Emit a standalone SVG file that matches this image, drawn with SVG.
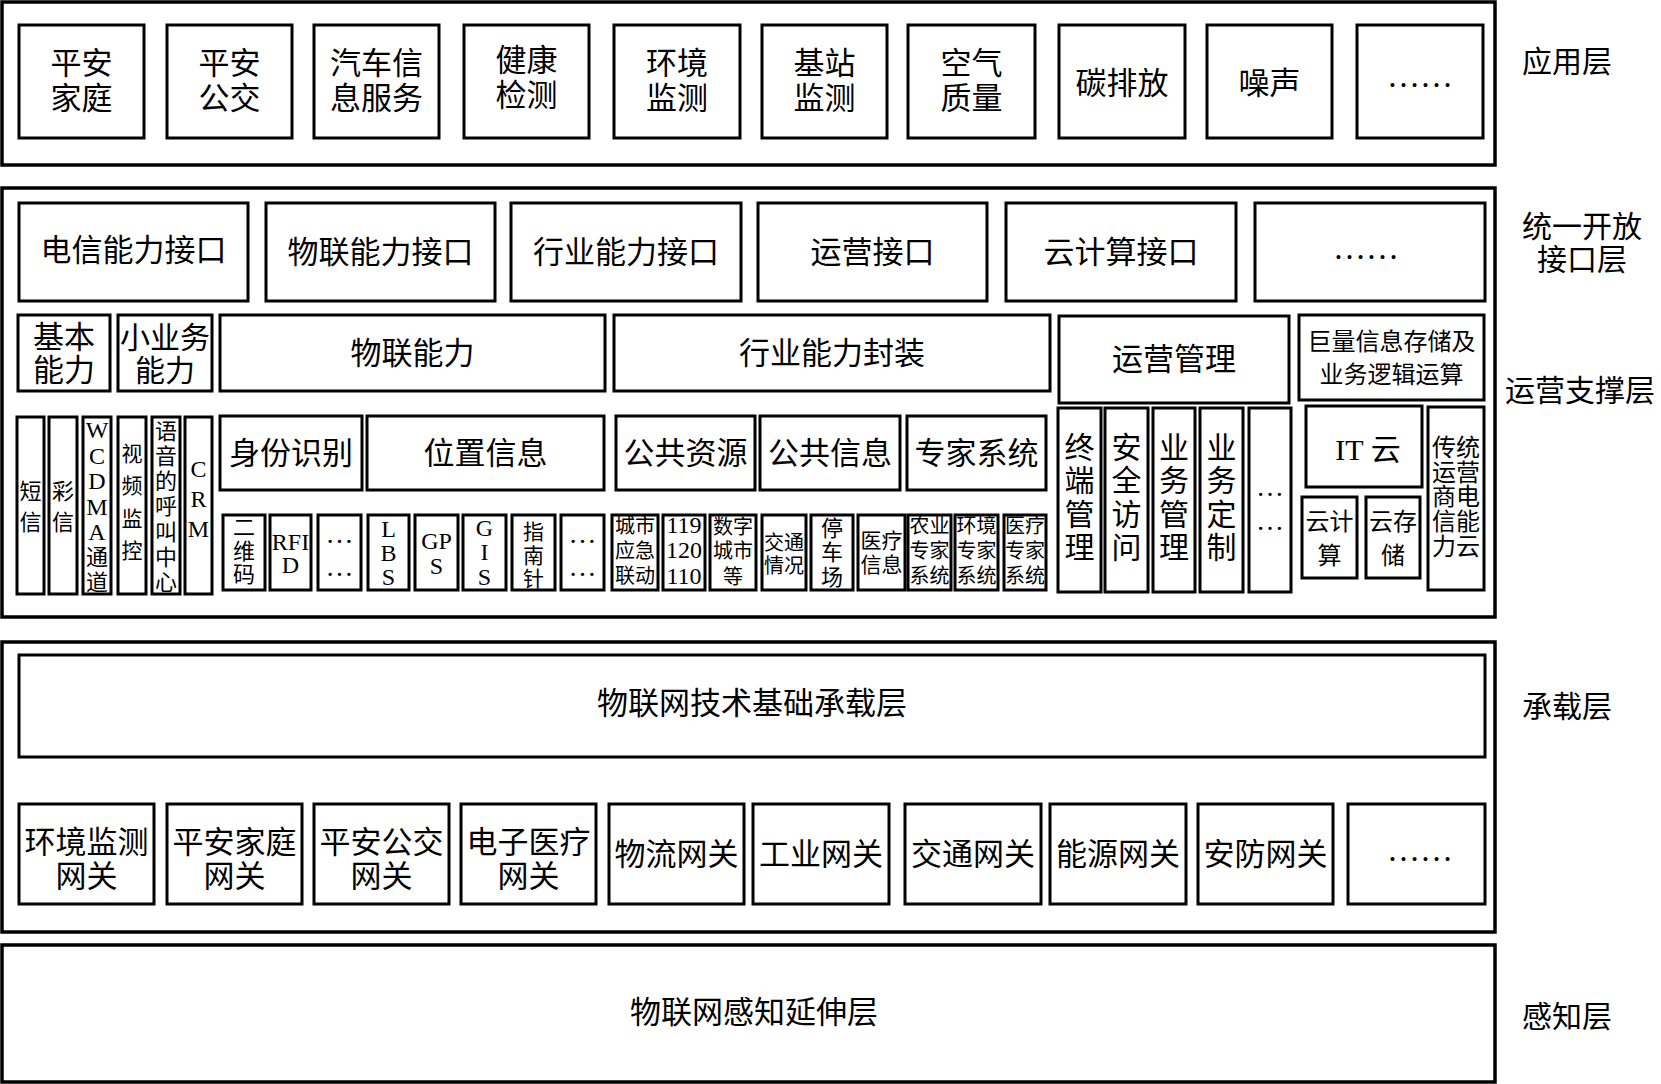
<svg xmlns="http://www.w3.org/2000/svg" width="1661" height="1084" viewBox="0 0 1661 1084">
<style>
.b{fill:#fff;stroke:#000;stroke-width:3}
.o{fill:none;stroke:#000;stroke-width:3.5}
text{font-family:"Liberation Serif","Noto Sans CJK SC",serif;text-anchor:middle;dominant-baseline:central;fill:#000}
.f31{font-size:31px}
.f30{font-size:30px}
.f24{font-size:24px}
.f22{font-size:22px}
.f21{font-size:21px}
.f20{font-size:20px}
.dots{font-size:33px}
.dots2{font-size:28px}
.lab{font-size:30px}
</style>
<rect width="1661" height="1084" fill="#fff"/>

<!-- 应用层 -->
<g id="layer-app">
<rect class="o" x="2" y="2" width="1493" height="163"/>
<text class="lab" x="1567" y="61">应用层</text>
</g>
<g id="app-1"><rect class="b" x="19" y="25" width="125" height="113"/><text class="f31"><tspan x="81.5" y="63">平安</tspan><tspan x="81.5" y="98">家庭</tspan></text></g>
<g id="app-2"><rect class="b" x="167" y="25" width="125" height="113"/><text class="f31"><tspan x="229.5" y="63">平安</tspan><tspan x="229.5" y="98">公交</tspan></text></g>
<g id="app-3"><rect class="b" x="314" y="25" width="125" height="113"/><text class="f31"><tspan x="376.5" y="63">汽车信</tspan><tspan x="376.5" y="98">息服务</tspan></text></g>
<g id="app-4"><rect class="b" x="464" y="25" width="125" height="113"/><text class="f31"><tspan x="526.5" y="60">健康</tspan><tspan x="526.5" y="95">检测</tspan></text></g>
<g id="app-5"><rect class="b" x="614" y="25" width="126" height="113"/><text class="f31"><tspan x="677" y="63">环境</tspan><tspan x="677" y="98">监测</tspan></text></g>
<g id="app-6"><rect class="b" x="762" y="25" width="125" height="113"/><text class="f31"><tspan x="824.5" y="63">基站</tspan><tspan x="824.5" y="98">监测</tspan></text></g>
<g id="app-7"><rect class="b" x="908" y="25" width="127" height="113"/><text class="f31"><tspan x="971.5" y="63">空气</tspan><tspan x="971.5" y="98">质量</tspan></text></g>
<g id="app-8"><rect class="b" x="1059" y="25" width="126" height="113"/><text class="f31" x="1122" y="83">碳排放</text></g>
<g id="app-9"><rect class="b" x="1207" y="25" width="125" height="113"/><text class="f31" x="1269.5" y="83">噪声</text></g>
<g id="app-10"><rect class="b" x="1357" y="25" width="126" height="113"/><text class="dots" x="1420" y="76">……</text></g>

<!-- 统一开放接口层 / 运营支撑层 -->
<g id="layer-mid">
<rect class="o" x="2" y="188" width="1493" height="429"/>
<text class="lab"><tspan x="1582" y="226">统一开放</tspan><tspan x="1582" y="259">接口层</tspan></text>
<text class="lab" x="1580" y="390">运营支撑层</text>
</g>
<g id="if-1"><rect class="b" x="19" y="203" width="229" height="98"/><text class="f31" x="133.5" y="250">电信能力接口</text></g>
<g id="if-2"><rect class="b" x="266" y="203" width="229" height="98"/><text class="f31" x="380.5" y="252">物联能力接口</text></g>
<g id="if-3"><rect class="b" x="511" y="203" width="230" height="98"/><text class="f31" x="626" y="252">行业能力接口</text></g>
<g id="if-4"><rect class="b" x="758" y="203" width="229" height="98"/><text class="f31" x="872.5" y="252">运营接口</text></g>
<g id="if-5"><rect class="b" x="1006" y="203" width="230" height="98"/><text class="f31" x="1121" y="252">云计算接口</text></g>
<g id="if-6"><rect class="b" x="1255" y="203" width="230" height="98"/><text class="dots" x="1366" y="248">……</text></g>

<g id="cap-basic"><rect class="b" x="18" y="315" width="92" height="76"/><text class="f31"><tspan x="64" y="337">基本</tspan><tspan x="64" y="370">能力</tspan></text></g>
<g id="cap-small"><rect class="b" x="118" y="315" width="94" height="76"/><text class="f30"><tspan x="165" y="337">小业务</tspan><tspan x="165" y="370">能力</tspan></text></g>
<g id="cap-iot"><rect class="b" x="220" y="315" width="385" height="76"/><text class="f31" x="412.5" y="353">物联能力</text></g>
<g id="cap-industry"><rect class="b" x="614" y="315" width="436" height="76"/><text class="f31" x="832" y="353">行业能力封装</text></g>
<g id="ops-mgmt"><rect class="b" x="1059" y="316" width="230" height="87"/><text class="f31" x="1174" y="359">运营管理</text></g>
<g id="storage"><rect class="b" x="1299" y="315" width="185" height="85"/><text class="f24"><tspan x="1391.5" y="342">巨量信息存储及</tspan><tspan x="1391.5" y="375">业务逻辑运算</tspan></text></g>

<!-- narrow columns -->
<g id="c-sms"><rect class="b" x="17" y="417" width="27" height="177"/><text class="f22"><tspan x="30.5" y="491">短</tspan><tspan x="30.5" y="522">信</tspan></text></g>
<g id="c-mms"><rect class="b" x="49" y="417" width="28" height="177"/><text class="f22"><tspan x="63" y="491">彩</tspan><tspan x="63" y="522">信</tspan></text></g>
<g id="c-wcdma"><rect class="b" x="83" y="417" width="28" height="177"/><text class="f24"><tspan x="97" y="430">W</tspan><tspan x="97" y="455.5">C</tspan><tspan x="97" y="481">D</tspan><tspan x="97" y="506.5">M</tspan><tspan x="97" y="532">A</tspan><tspan x="97" y="557" font-size="22">通</tspan><tspan x="97" y="582" font-size="22">道</tspan></text></g>
<g id="c-video"><rect class="b" x="118" y="417" width="28" height="177"/><text class="f21"><tspan x="132" y="454">视</tspan><tspan x="132" y="486">频</tspan><tspan x="132" y="519">监</tspan><tspan x="132" y="551">控</tspan></text></g>
<g id="c-call"><rect class="b" x="152" y="417" width="28" height="177"/><text class="f22"><tspan x="166" y="431">语</tspan><tspan x="166" y="456">音</tspan><tspan x="166" y="481">的</tspan><tspan x="166" y="506">呼</tspan><tspan x="166" y="532">叫</tspan><tspan x="166" y="557">中</tspan><tspan x="166" y="582">心</tspan></text></g>
<g id="c-crm"><rect class="b" x="185" y="417" width="27" height="177"/><text class="f24"><tspan x="198.5" y="469">C</tspan><tspan x="198.5" y="499">R</tspan><tspan x="198.5" y="529">M</tspan></text></g>

<g id="id-recog"><rect class="b" x="220" y="416" width="142" height="74"/><text class="f31" x="291" y="453">身份识别</text></g>
<g id="location"><rect class="b" x="367" y="416" width="237" height="74"/><text class="f31" x="485.5" y="453">位置信息</text></g>
<g id="pub-res"><rect class="b" x="616" y="416" width="139" height="74"/><text class="f31" x="685.5" y="453">公共资源</text></g>
<g id="pub-info"><rect class="b" x="760" y="416" width="140" height="74"/><text class="f31" x="830" y="453">公共信息</text></g>
<g id="expert"><rect class="b" x="907" y="416" width="139" height="74"/><text class="f31" x="976.5" y="453">专家系统</text></g>

<!-- small boxes -->
<g id="s-qr"><rect class="b" x="223" y="515" width="42" height="75"/><text class="f22"><tspan x="244" y="527">二</tspan><tspan x="244" y="550.5">维</tspan><tspan x="244" y="574">码</tspan></text></g>
<g id="s-rfid"><rect class="b" x="270" y="515" width="41" height="75"/><text class="f24"><tspan x="290.5" y="542">RFI</tspan><tspan x="290.5" y="565">D</tspan></text></g>
<g id="s-more1"><rect class="b" x="318" y="515" width="43" height="75"/><text class="dots2"><tspan x="339.5" y="533">…</tspan><tspan x="339.5" y="566">…</tspan></text></g>
<g id="s-lbs"><rect class="b" x="368" y="515" width="41" height="75"/><text class="f24"><tspan x="388.5" y="529">L</tspan><tspan x="388.5" y="553">B</tspan><tspan x="388.5" y="577">S</tspan></text></g>
<g id="s-gps"><rect class="b" x="415" y="515" width="43" height="75"/><text class="f24"><tspan x="436.5" y="541">GP</tspan><tspan x="436.5" y="566">S</tspan></text></g>
<g id="s-gis"><rect class="b" x="463" y="515" width="43" height="75"/><text class="f24"><tspan x="484.5" y="528">G</tspan><tspan x="484.5" y="552">I</tspan><tspan x="484.5" y="577">S</tspan></text></g>
<g id="s-compass"><rect class="b" x="512" y="515" width="43" height="75"/><text class="f21"><tspan x="533.5" y="532">指</tspan><tspan x="533.5" y="556">南</tspan><tspan x="533.5" y="579">针</tspan></text></g>
<g id="s-more2"><rect class="b" x="561" y="515" width="43" height="75"/><text class="dots2"><tspan x="582.5" y="533">…</tspan><tspan x="582.5" y="566">…</tspan></text></g>
<g id="s-city"><rect class="b" x="612" y="515" width="46" height="75"/><text class="f20"><tspan x="635" y="526">城市</tspan><tspan x="635" y="551">应急</tspan><tspan x="635" y="576">联动</tspan></text></g>
<g id="s-119"><rect class="b" x="663" y="515" width="42" height="75"/><text class="f24"><tspan x="684" y="525">119</tspan><tspan x="684" y="550">120</tspan><tspan x="684" y="576">110</tspan></text></g>
<g id="s-digital"><rect class="b" x="710" y="515" width="46" height="75"/><text class="f20"><tspan x="733" y="527">数字</tspan><tspan x="733" y="551">城市</tspan><tspan x="733" y="577">等</tspan></text></g>
<g id="s-traffic"><rect class="b" x="762" y="515" width="44" height="75"/><text class="f20"><tspan x="784" y="543">交通</tspan><tspan x="784" y="566">情况</tspan></text></g>
<g id="s-parking"><rect class="b" x="811" y="515" width="42" height="75"/><text class="f22"><tspan x="832" y="528">停</tspan><tspan x="832" y="552">车</tspan><tspan x="832" y="577">场</tspan></text></g>
<g id="s-medinfo"><rect class="b" x="858" y="515" width="47" height="75"/><text class="f21"><tspan x="881.5" y="541">医疗</tspan><tspan x="881.5" y="565">信息</tspan></text></g>
<g id="s-agri"><rect class="b" x="908" y="515" width="43" height="75"/><text class="f20"><tspan x="929.5" y="526">农业</tspan><tspan x="929.5" y="551">专家</tspan><tspan x="929.5" y="576">系统</tspan></text></g>
<g id="s-env"><rect class="b" x="955" y="515" width="43" height="75"/><text class="f20"><tspan x="976.5" y="526">环境</tspan><tspan x="976.5" y="551">专家</tspan><tspan x="976.5" y="576">系统</tspan></text></g>
<g id="s-med"><rect class="b" x="1004" y="515" width="42" height="75"/><text class="f20"><tspan x="1025" y="526">医疗</tspan><tspan x="1025" y="551">专家</tspan><tspan x="1025" y="576">系统</tspan></text></g>

<!-- ops vertical -->
<g id="op-term"><rect class="b" x="1058" y="408" width="43" height="184"/><text class="f30"><tspan x="1079.5" y="447">终</tspan><tspan x="1079.5" y="480">端</tspan><tspan x="1079.5" y="514">管</tspan><tspan x="1079.5" y="547">理</tspan></text></g>
<g id="op-sec"><rect class="b" x="1105" y="408" width="43" height="184"/><text class="f30"><tspan x="1126.5" y="447">安</tspan><tspan x="1126.5" y="480">全</tspan><tspan x="1126.5" y="514">访</tspan><tspan x="1126.5" y="547">问</tspan></text></g>
<g id="op-biz"><rect class="b" x="1153" y="408" width="42" height="184"/><text class="f30"><tspan x="1174" y="447">业</tspan><tspan x="1174" y="480">务</tspan><tspan x="1174" y="514">管</tspan><tspan x="1174" y="547">理</tspan></text></g>
<g id="op-custom"><rect class="b" x="1200" y="408" width="43" height="184"/><text class="f30"><tspan x="1221.5" y="447">业</tspan><tspan x="1221.5" y="480">务</tspan><tspan x="1221.5" y="514">定</tspan><tspan x="1221.5" y="547">制</tspan></text></g>
<g id="op-more"><rect class="b" x="1249" y="408" width="42" height="184"/><text class="dots2"><tspan x="1270" y="486">…</tspan><tspan x="1270" y="520">…</tspan></text></g>

<g id="it-cloud"><rect class="b" x="1306" y="406" width="116" height="81"/><text class="f30" x="1368" y="449">IT 云</text></g>
<g id="cloud-compute"><rect class="b" x="1302" y="497" width="55" height="81"/><text class="f24"><tspan x="1329.5" y="522">云计</tspan><tspan x="1329.5" y="556">算</tspan></text></g>
<g id="cloud-store"><rect class="b" x="1366" y="497" width="54" height="81"/><text class="f24"><tspan x="1393" y="522">云存</tspan><tspan x="1393" y="556">储</tspan></text></g>
<g id="telecom-cloud"><rect class="b" x="1428" y="407" width="56" height="183"/><text class="f24"><tspan x="1456" y="448">传统</tspan><tspan x="1456" y="473">运营</tspan><tspan x="1456" y="497">商电</tspan><tspan x="1456" y="522">信能</tspan><tspan x="1456" y="547">力云</tspan></text></g>

<!-- 承载层 -->
<g id="layer-bearer">
<rect class="o" x="2" y="642" width="1493" height="290"/>
<text class="lab" x="1567" y="706">承载层</text>
</g>
<g id="bearer-base"><rect class="b" x="19" y="655" width="1466" height="102"/><text class="f31" x="752" y="703">物联网技术基础承载层</text></g>
<g id="gw-1"><rect class="b" x="19" y="804" width="135" height="100"/><text class="f31"><tspan x="86.5" y="842">环境监测</tspan><tspan x="86.5" y="876">网关</tspan></text></g>
<g id="gw-2"><rect class="b" x="167" y="804" width="135" height="100"/><text class="f31"><tspan x="234.5" y="842">平安家庭</tspan><tspan x="234.5" y="876">网关</tspan></text></g>
<g id="gw-3"><rect class="b" x="314" y="804" width="135" height="100"/><text class="f31"><tspan x="381.5" y="842">平安公交</tspan><tspan x="381.5" y="876">网关</tspan></text></g>
<g id="gw-4"><rect class="b" x="461" y="804" width="135" height="100"/><text class="f31"><tspan x="528.5" y="842">电子医疗</tspan><tspan x="528.5" y="876">网关</tspan></text></g>
<g id="gw-5"><rect class="b" x="609" y="804" width="135" height="100"/><text class="f31" x="676.5" y="854">物流网关</text></g>
<g id="gw-6"><rect class="b" x="753" y="804" width="136" height="100"/><text class="f31" x="821" y="854">工业网关</text></g>
<g id="gw-7"><rect class="b" x="905" y="804" width="136" height="100"/><text class="f31" x="973" y="854">交通网关</text></g>
<g id="gw-8"><rect class="b" x="1050" y="804" width="136" height="100"/><text class="f31" x="1118" y="854">能源网关</text></g>
<g id="gw-9"><rect class="b" x="1198" y="804" width="135" height="100"/><text class="f31" x="1265.5" y="854">安防网关</text></g>
<g id="gw-10"><rect class="b" x="1348" y="804" width="137" height="100"/><text class="dots" x="1420" y="850">……</text></g>

<!-- 感知层 -->
<g id="layer-sense">
<rect class="o" x="2" y="945" width="1493" height="137"/>
<text class="f31" x="754" y="1012">物联网感知延伸层</text>
<text class="lab" x="1567" y="1016">感知层</text>
</g>

<g id="connectors"/>
</svg>
